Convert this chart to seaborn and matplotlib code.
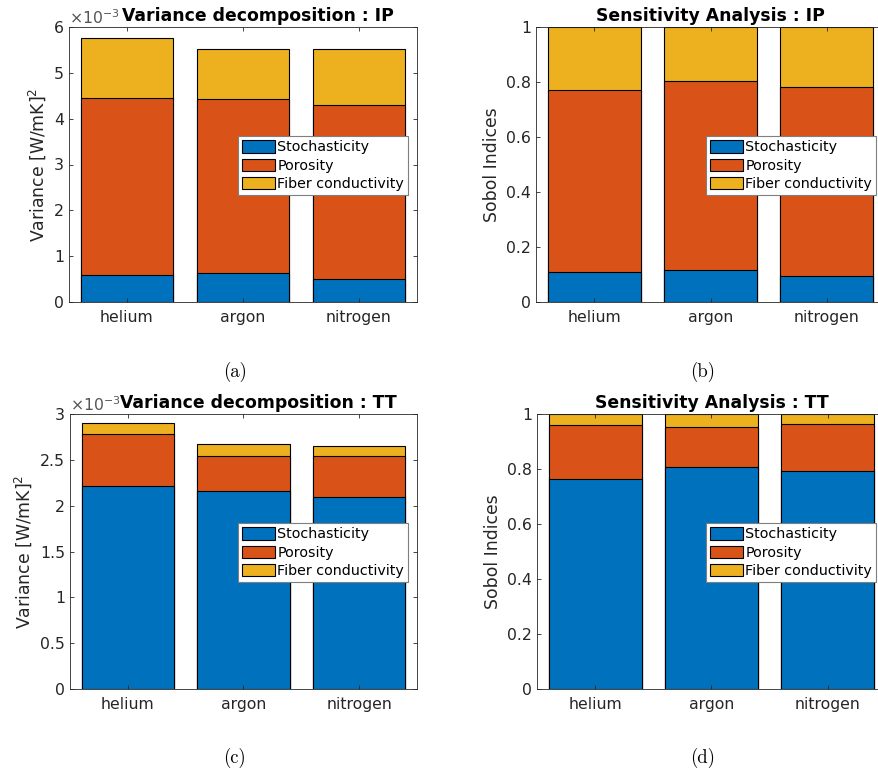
import numpy as np
import pandas as pd
import matplotlib
matplotlib.use("Agg")
import matplotlib.pyplot as plt
from matplotlib.patches import Patch
from matplotlib.ticker import FuncFormatter, MultipleLocator
import seaborn as sns

# ---------------- data ----------------
gases = ["helium", "argon", "nitrogen"]
components = ["Stochasticity", "Porosity", "Fiber conductivity"]

# Variance decomposition IP (units W/mK ^2)
var_ip_stoch = [0.60e-3, 0.64e-3, 0.50e-3]
var_ip_poro = [3.85e-3, 3.80e-3, 3.79e-3]
var_ip_fiber = [1.32e-3, 1.08e-3, 1.22e-3]

# Sobol indices IP
sob_ip_stoch = [0.108, 0.116, 0.093]
sob_ip_poro = [0.662, 0.686, 0.688]
sob_ip_fiber = [0.230, 0.198, 0.219]

# Variance decomposition TT
var_tt_stoch = [2.22e-3, 2.16e-3, 2.09e-3]
var_tt_poro = [0.56e-3, 0.38e-3, 0.455e-3]
var_tt_fiber = [0.12e-3, 0.13e-3, 0.105e-3]

# Sobol indices TT
sob_tt_stoch = [0.763, 0.808, 0.792]
sob_tt_poro = [0.197, 0.145, 0.172]
sob_tt_fiber = [0.040, 0.047, 0.036]

colors = ["#0072BD", "#D95319", "#EDB120"]
axis_col = "#262626"

W, H = 879, 774
fig = plt.figure(figsize=(W / 100, H / 100), dpi=100)
plt.rcParams["font.family"] = ["DejaVu Sans"]


def frac_rect(left, top, right, bottom):
    return [left / W, 1 - bottom / H, (right - left) / W, (bottom - top) / H]


def stacked(ax, stoch, poro, fiber, ymax, ystep, scale, title, ylabel, title_x, legend_xy):
    df = pd.DataFrame({"gas": gases, "stoch": stoch, "poro": poro, "fiber": fiber})
    df["c2"] = df["stoch"] + df["poro"]
    df["c3"] = df["c2"] + df["fiber"]
    for col, c in zip(["c3", "c2", "stoch"], colors[::-1]):
        sns.barplot(data=df, x="gas", y=col, color=c, saturation=1, edgecolor="black",
                    linewidth=0.8, width=0.8, ax=ax, errorbar=None)
    ax.set_xlim(-0.5, 2.5)
    ax.set_ylim(0, ymax)
    ax.yaxis.set_major_locator(MultipleLocator(ystep))
    ax.yaxis.set_major_formatter(FuncFormatter(lambda v, p: f"{v / scale:g}"))
    ax.set_xlabel("")
    ax.set_ylabel(ylabel, fontsize=12.4, color=axis_col)
    ax.set_title(title, fontsize=12.4, fontweight="bold", x=title_x, pad=4)
    ax.tick_params(direction="in", top=True, right=True, length=3, width=0.6,
                   colors=axis_col, labelsize=11.3)
    ax.tick_params(axis="x", pad=6)
    for s in ax.spines.values():
        s.set_color(axis_col)
        s.set_linewidth(0.6)
    handles = [Patch(facecolor=c, edgecolor="black", linewidth=0.8, label=l)
               for c, l in zip(colors, components)]
    leg = ax.legend(handles=handles, loc="upper left",
                    bbox_to_anchor=(legend_xy[0] / W, 1 - legend_xy[1] / H),
                    bbox_transform=fig.transFigure, borderaxespad=0, fontsize=10.3,
                    handlelength=2.3, handleheight=0.95, handletextpad=0.15,
                    labelspacing=0.3, borderpad=0.3, fancybox=False, framealpha=1,
                    edgecolor="#7f7f7f")
    leg.get_frame().set_linewidth(0.8)
    if scale != 1:
        ax.text(0, 1.0, r"$\times10^{-3}$", transform=ax.transAxes, ha="left",
                va="bottom", fontsize=11.3, color="#555555")


ax_a = fig.add_axes(frac_rect(69, 27, 417, 302))
ax_b = fig.add_axes(frac_rect(536, 27, 885, 302))
ax_c = fig.add_axes(frac_rect(70, 414, 417, 689))
ax_d = fig.add_axes(frac_rect(537, 414, 886, 689))

stacked(ax_a, var_ip_stoch, var_ip_poro, var_ip_fiber, 6e-3, 1e-3, 1e-3,
        "Variance decomposition : IP", r"Variance [W/mK]$^2$", 0.543, (238, 136))
stacked(ax_b, sob_ip_stoch, sob_ip_poro, sob_ip_fiber, 1, 0.2, 1,
        "Sensitivity Analysis : IP", "Sobol Indices", 0.5, (706, 136))
stacked(ax_c, var_tt_stoch, var_tt_poro, var_tt_fiber, 3e-3, 0.5e-3, 1e-3,
        "Variance decomposition : TT", r"Variance [W/mK]$^2$", 0.543, (238, 523))
stacked(ax_d, sob_tt_stoch, sob_tt_poro, sob_tt_fiber, 1, 0.2, 1,
        "Sensitivity Analysis : TT", "Sobol Indices", 0.5, (706, 523))

for lab, x, y in [("(a)", 235, 372), ("(b)", 703, 372), ("(c)", 235, 758), ("(d)", 703, 758)]:
    fig.text(x / W, 1 - y / H, lab, family="cmr10", fontsize=13.5, ha="center", va="center")

fig.savefig("out.png", dpi=100)
